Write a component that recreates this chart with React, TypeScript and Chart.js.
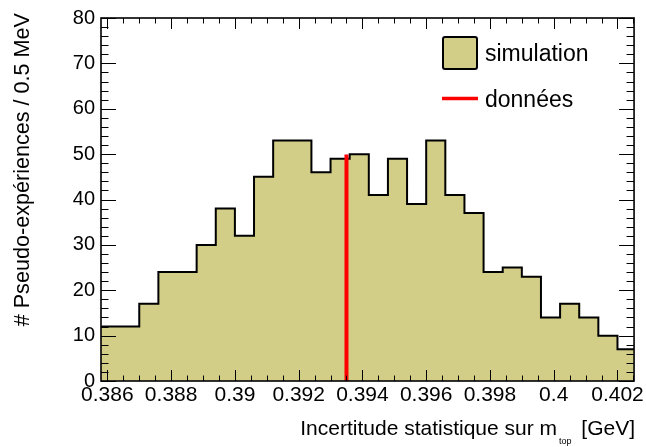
import { useEffect, useRef } from "react";
import { Chart, registerables } from "chart.js";

Chart.register(...registerables);

// ---- data ----
const binEdges = [
  0.3858, 0.3864, 0.387, 0.3876, 0.3882, 0.3888, 0.3894, 0.39, 0.3906, 0.3912,
  0.3918, 0.3924, 0.393, 0.3936, 0.3942, 0.3948, 0.3954, 0.396, 0.3966, 0.3972,
  0.3978, 0.3984, 0.399, 0.3996, 0.4002, 0.4008, 0.4014, 0.402, 0.4026,
];
const simCounts = [
  12, 12, 17, 24, 24, 30, 38, 32, 45, 53, 53, 46, 49, 50, 41, 49, 39, 53, 41, 37,
  24, 25, 23, 14, 17, 14, 10, 7,
];
const dataX = 0.3935;
const dataY = [0, 49.9];

const xTickValues = [0.386, 0.388, 0.39, 0.392, 0.394, 0.396, 0.398, 0.4, 0.402];
const xTickLabels = ["0.386", "0.388", "0.39", "0.392", "0.394", "0.396", "0.398", "0.4", "0.402"];
const yTickValues = [0, 10, 20, 30, 40, 50, 60, 70, 80];
const yTickLabels = ["0", "10", "20", "30", "40", "50", "60", "70", "80"];

const xMin = 0.3858;
const xMax = 0.40252;
const yMin = 0;
const yMax = 80;

const legendLabels = ["simulation", "données"];
const xTitleMain = "Incertitude statistique sur m";
const xTitleSub = "top";
const xTitleUnit = "[GeV]";
const yTitle = "# Pseudo-expériences / 0.5 MeV";

const FONT = "'Liberation Sans', Arial, Helvetica, sans-serif";
const FILL = "#d2cd87";

const rootStyle = {
  id: "rootStyle",
  afterDatasetsDraw(chart: any) {
    const ctx = chart.ctx as CanvasRenderingContext2D;
    const { left, right, top, bottom } = chart.chartArea;
    const xs = chart.scales.x;
    const ys = chart.scales.y;
    ctx.save();
    ctx.strokeStyle = "#000";
    ctx.lineWidth = 1;
    // x ticks (bottom and top)
    const xStepMinor = (xTickValues[1] - xTickValues[0]) / 4;
    for (let k = -8; k <= 80; k++) {
      const v = xTickValues[0] + k * xStepMinor;
      if (v < xMin - 1e-9 || v > xMax + 1e-9) continue;
      const px = Math.round(xs.getPixelForValue(v)) + 0.5;
      const major = k % 4 === 0;
      const len = major ? 11 : 5.5;
      ctx.beginPath();
      ctx.moveTo(px, bottom);
      ctx.lineTo(px, bottom - len);
      ctx.moveTo(px, top);
      ctx.lineTo(px, top + len);
      ctx.stroke();
    }
    // y ticks (left and right)
    const yStepMinor = (yTickValues[1] - yTickValues[0]) / 5;
    for (let k = 0; k <= 40; k++) {
      const v = yMin + k * yStepMinor;
      if (v > yMax + 1e-9) continue;
      const py = Math.round(ys.getPixelForValue(v)) + 0.5;
      const major = k % 5 === 0;
      const len = major ? 15 : 7.5;
      ctx.beginPath();
      ctx.moveTo(left, py);
      ctx.lineTo(left + len, py);
      ctx.moveTo(right, py);
      ctx.lineTo(right - len, py);
      ctx.stroke();
    }
    // frame
    ctx.lineWidth = 1.6;
    ctx.strokeRect(left, top, right - left, bottom - top);
    ctx.restore();
  },
  afterDraw(chart: any) {
    const ctx = chart.ctx as CanvasRenderingContext2D;
    const { right, bottom } = chart.chartArea;
    ctx.save();
    ctx.fillStyle = "#000";
    // x title
    ctx.textBaseline = "alphabetic";
    ctx.font = `21px ${FONT}`;
    ctx.textAlign = "right";
    ctx.fillText(xTitleUnit, right + 1, bottom + 54);
    ctx.font = `9px ${FONT}`;
    ctx.textAlign = "left";
    ctx.fillText(xTitleSub, right - 75, bottom + 63);
    ctx.font = `21px ${FONT}`;
    ctx.textAlign = "right";
    ctx.fillText(xTitleMain, right - 77, bottom + 54);
    // y title
    ctx.save();
    ctx.translate(29, 13);
    ctx.rotate(-Math.PI / 2);
    ctx.font = `21.6px ${FONT}`;
    ctx.textAlign = "right";
    ctx.fillText(yTitle, 0, 0);
    ctx.restore();
    // legend
    ctx.fillStyle = FILL;
    ctx.strokeStyle = "#000";
    ctx.lineWidth = 2;
    ctx.beginPath();
    (ctx as any).roundRect ? (ctx as any).roundRect(443, 37, 34, 32, 2) : ctx.rect(443, 37, 34, 32);
    ctx.fill();
    ctx.stroke();
    ctx.strokeStyle = "#ff0000";
    ctx.lineWidth = 3.5;
    ctx.beginPath();
    ctx.moveTo(442, 98.5);
    ctx.lineTo(478, 98.5);
    ctx.stroke();
    ctx.fillStyle = "#000";
    ctx.font = `23px ${FONT}`;
    ctx.textAlign = "left";
    ctx.fillText(legendLabels[0], 485, 61);
    ctx.fillText(legendLabels[1], 485, 106.5);
    ctx.restore();
  },
};

export default function App() {
  const ref = useRef<HTMLCanvasElement>(null);
  useEffect(() => {
    if (!ref.current) return;
    const histPoints = binEdges.map((e, i) => ({
      x: e,
      y: simCounts[Math.min(i, simCounts.length - 1)],
    }));
    const chart = new Chart(ref.current, {
      type: "line",
      data: {
        datasets: [
          {
            label: legendLabels[1],
            data: dataY.map((y) => ({ x: dataX, y })),
            borderColor: "#ff0000",
            borderWidth: 4,
            pointRadius: 0,
            fill: false,
          },
          {
            label: legendLabels[0],
            data: histPoints,
            stepped: true,
            borderColor: "#000",
            borderWidth: 2,
            backgroundColor: FILL,
            fill: "origin",
            pointRadius: 0,
          },
        ],
      },
      plugins: [rootStyle],
      options: {
        animation: false,
        responsive: false,
        devicePixelRatio: 1,
        layout: { padding: { left: 0, top: 15, right: 8, bottom: 0 } },
        plugins: { legend: { display: false }, tooltip: { enabled: false } },
        scales: {
          x: {
            type: "linear",
            min: xMin,
            max: xMax,
            grid: { display: false, drawTicks: false },
            border: { display: false },
            afterBuildTicks: (s: any) => {
              s.ticks = xTickValues.map((v) => ({ value: v }));
            },
            afterFit: (s: any) => {
              s.height = 66;
            },
            ticks: {
              autoSkip: false,
              maxRotation: 0,
              padding: 2,
              color: "#000",
              font: { family: FONT, size: 21 },
              callback: (_v: any, i: number) => xTickLabels[i],
            },
          },
          y: {
            type: "linear",
            min: yMin,
            max: yMax,
            grid: { display: false, drawTicks: false },
            border: { display: false },
            afterBuildTicks: (s: any) => {
              s.ticks = yTickValues.map((v) => ({ value: v }));
            },
            afterFit: (s: any) => {
              s.width = 101;
            },
            ticks: {
              padding: 6,
              color: "#000",
              font: { family: FONT, size: 20 },
              callback: (_v: any, i: number) => yTickLabels[i],
            },
          },
        },
      },
    });
    return () => chart.destroy();
  }, []);
  return (
    <div style={{ position: "fixed", left: 0, top: 0, width: 646, height: 447, background: "#fff" }}>
      <canvas ref={ref} width={646} height={447} />
    </div>
  );
}
